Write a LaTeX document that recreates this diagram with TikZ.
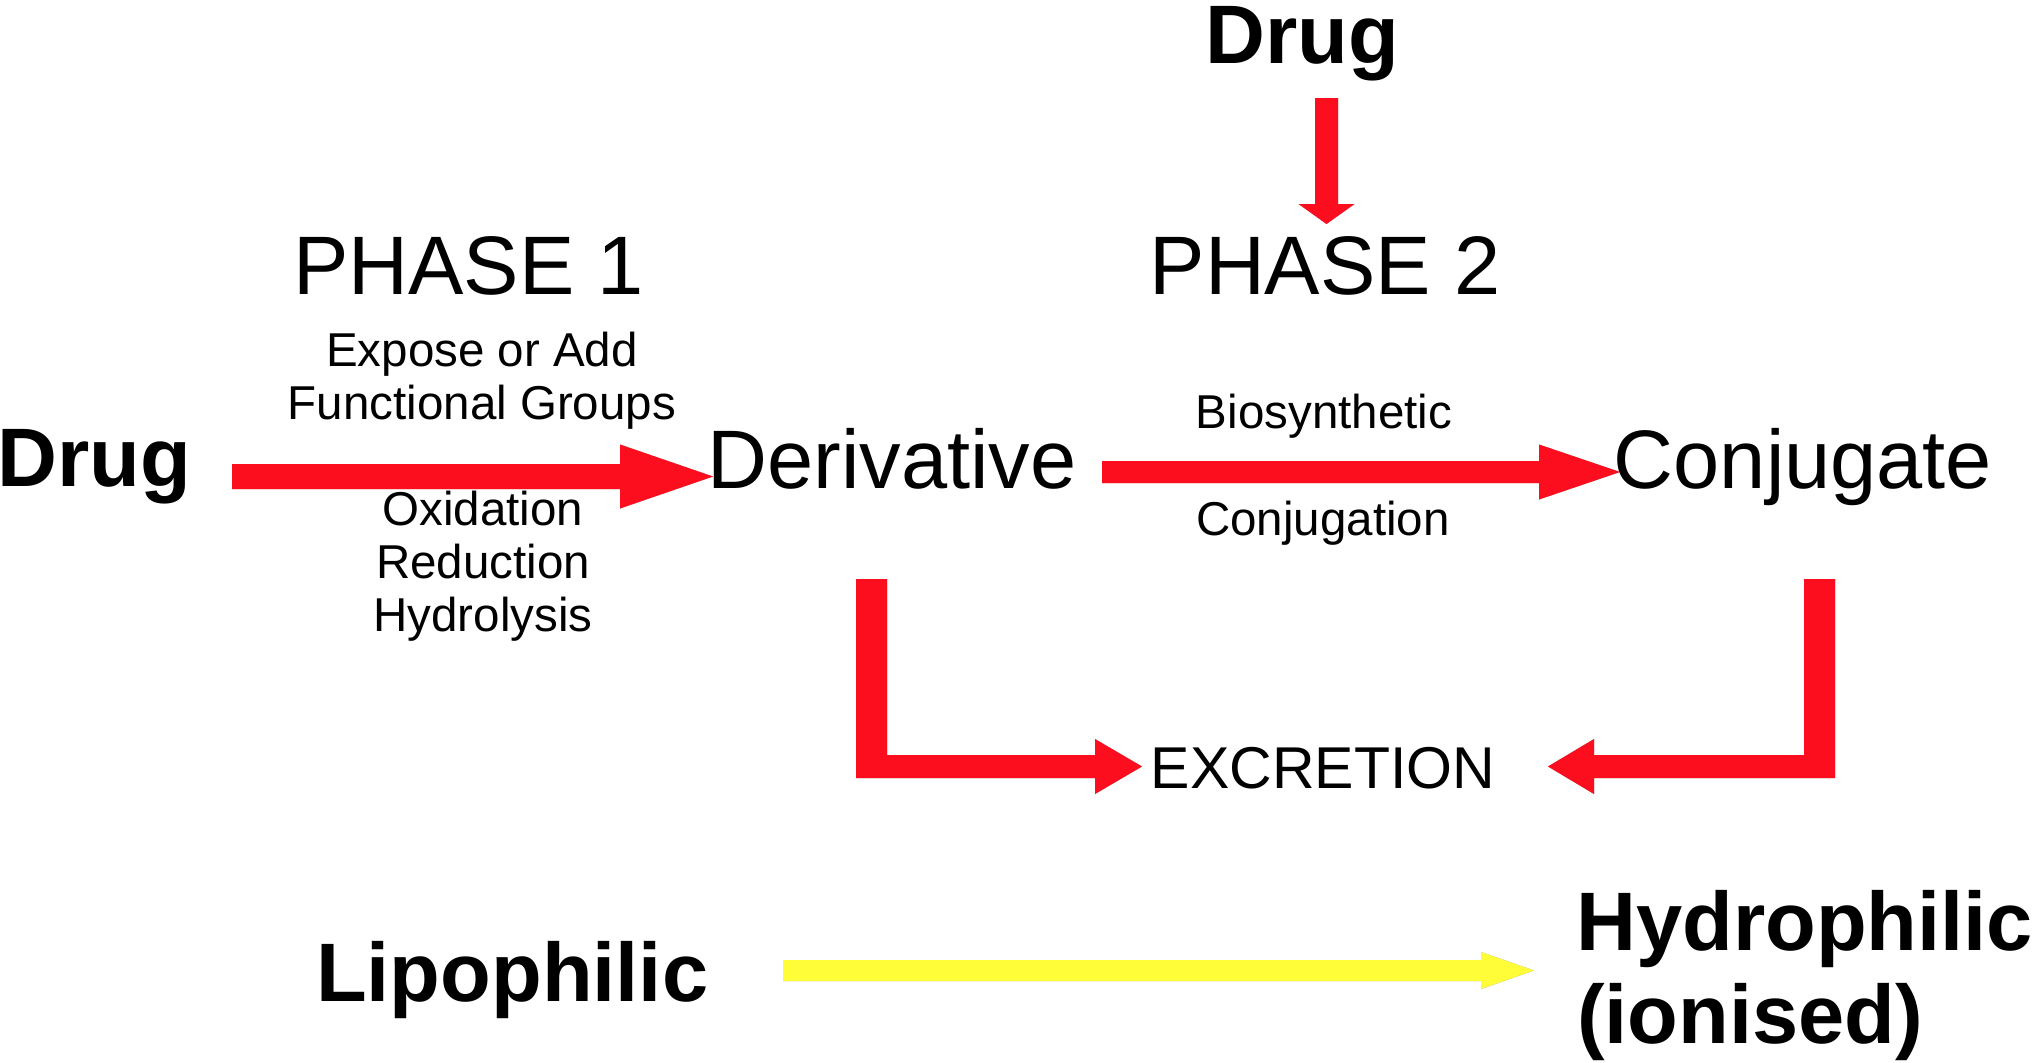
\documentclass[tikz,border=0pt]{standalone}
\usepackage{fontspec}
\setmainfont{Liberation Sans}
\usetikzlibrary{calc}
\definecolor{arrred}{RGB}{252,14,30}
\definecolor{arryel}{RGB}{255,252,56}

\tikzset{
  txt/.style={inner sep=0pt, anchor=base, text=black},
  big/.style={txt, font=\fontsize{83bp}{96bp}\selectfont},
  bigb/.style={txt, font=\fontsize{83bp}{96bp}\selectfont\bfseries},
  small/.style={txt, font=\fontsize{47.5bp}{56bp}\selectfont},
  mid/.style={txt, font=\fontsize{59bp}{70bp}\selectfont},
  shad/.style={fill=black, opacity=0.15},
}

% straight horizontal block arrow: [style]{start}{tip}{shaft half}{head half}{head length (signed)}
\newcommand\hblk[6][]{\fill[#1] let \p1=(#2), \p2=(#3) in
  (\x1,{\y1+#4bp}) -- ({\x2-(#6bp)},{\y1+#4bp}) -- ({\x2-(#6bp)},{\y2+#5bp}) -- (\x2,\y2)
  -- ({\x2-(#6bp)},{\y2-#5bp}) -- ({\x2-(#6bp)},{\y1-#4bp}) -- (\x1,{\y1-#4bp}) -- cycle;}
% downward block arrow
\newcommand\vblk[6][]{\fill[#1] let \p1=(#2), \p2=(#3) in
  ({\x1-#4bp},\y1) -- ({\x1-#4bp},{\y2+#6bp}) -- ({\x2-#5bp},{\y2+#6bp}) -- (\x2,\y2)
  -- ({\x2+#5bp},{\y2+#6bp}) -- ({\x1+#4bp},{\y2+#6bp}) -- ({\x1+#4bp},\y1) -- cycle;}
% L-shaped block arrow: [style]{top}{tip}{vert half}{horiz half}{head half}{head length (signed)}
\newcommand\lblk[7][]{\fill[#1] let \p1=(#2), \p2=(#3), \n1={(#7)/abs(#7)} in
  ({\x1-(\n1)*#4bp},\y1) -- ({\x1+(\n1)*#4bp},\y1) -- ({\x1+(\n1)*#4bp},{\y2+#5bp})
  -- ({\x2-(#7bp)},{\y2+#5bp}) -- ({\x2-(#7bp)},{\y2+#6bp}) -- (\x2,\y2)
  -- ({\x2-(#7bp)},{\y2-#6bp}) -- ({\x2-(#7bp)},{\y2-#5bp}) -- ({\x1-(\n1)*#4bp},{\y2-#5bp}) -- cycle;}

\newcommand\shH[6]{%
  \hblk[shad,xshift=2bp,yshift=-4bp]{#2}{#3}{#4}{#5}{#6}
  \hblk[shad,xshift=4bp,yshift=-7bp]{#2}{#3}{#4}{#5}{#6}
  \hblk[shad,xshift=6bp,yshift=-10bp]{#2}{#3}{#4}{#5}{#6}
  \hblk[fill=#1]{#2}{#3}{#4}{#5}{#6}}
\newcommand\shV[6]{%
  \vblk[shad,xshift=3bp,yshift=-3bp]{#2}{#3}{#4}{#5}{#6}
  \vblk[shad,xshift=5bp,yshift=-6bp]{#2}{#3}{#4}{#5}{#6}
  \vblk[shad,xshift=7bp,yshift=-9bp]{#2}{#3}{#4}{#5}{#6}
  \vblk[fill=#1]{#2}{#3}{#4}{#5}{#6}}
\newcommand\shL[7]{%
  \lblk[shad,xshift=2bp,yshift=-4bp]{#2}{#3}{#4}{#5}{#6}{#7}
  \lblk[shad,xshift=4bp,yshift=-7bp]{#2}{#3}{#4}{#5}{#6}{#7}
  \lblk[shad,xshift=6bp,yshift=-10bp]{#2}{#3}{#4}{#5}{#6}{#7}
  \lblk[fill=#1]{#2}{#3}{#4}{#5}{#6}{#7}}

\begin{document}
\begin{tikzpicture}[x=1bp,y=-1bp]
\fill[white] (0,0) rectangle (2032,1062);
\useasboundingbox (0,0) rectangle (2032,1062);

% texts
\node[bigb] (drugT) at (1302,63) {Drug};
\node[bigb, anchor=base west] (drugL) at (-3,486) {Drug};
\node[big] (ph1) at (468.5,294) {PHASE 1};
\node[big] (ph2) at (1325,294) {PHASE 2};
\node[small] (expose) at (482,366) {Expose or Add};
\node[small] (func) at (482,419) {Functional Groups};
\node[small] (oxid) at (483,525) {Oxidation};
\node[small] (redu) at (483,578) {Reduction};
\node[small] (hydr) at (483,631) {Hydrolysis};
\node[big] (deriv) at (892,488) {Derivative};
\node[big] (conj) at (1803,488) {Conjugate};
\node[small] (bios) at (1324,428) {Biosynthetic};
\node[small] (conjn) at (1323,535) {Conjugation};
\node[mid] (excr) at (1323,788) {EXCRETION};
\node[bigb, anchor=base west] (lipo) at (316,1001) {Lipophilic};
\node[bigb, anchor=base west] (hydro) at (1576,950) {Hydrophilic};
\node[bigb, anchor=base west] (ionis) at (1577,1043) {(ionised)};

% connector end points
\coordinate (a1s) at (232,476.5);   \coordinate (a1e) at (713,476.5);
\coordinate (a2s) at (1102,472);    \coordinate (a2e) at (1620,472);
\coordinate (a3s) at (1326.5,98);   \coordinate (a3e) at (1326.5,224);
\coordinate (l1s) at (871.5,579);   \coordinate (l1e) at (1142,766.5);
\coordinate (l2s) at (1819.5,579);  \coordinate (l2e) at (1548,766.5);
\coordinate (ys) at (783,970.5);    \coordinate (ye) at (1534,970.5);

% connectors
\shH{arrred}{a1s}{a1e}{12.5}{32}{93}
\shH{arrred}{a2s}{a2e}{11}{27.5}{81}
\shV{arrred}{a3s}{a3e}{11.5}{28}{20}
\shL{arrred}{l1s}{l1e}{15.5}{11.5}{27.5}{47}
\shL{arrred}{l2s}{l2e}{15.5}{11.5}{27.5}{-46}
\shH{arryel}{ys}{ye}{10.5}{18.5}{53}
\end{tikzpicture}
\end{document}
